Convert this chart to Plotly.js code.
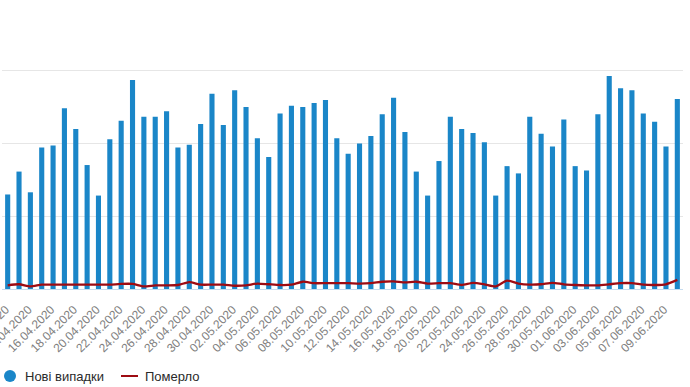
<!DOCTYPE html>
<html>
<head>
<meta charset="utf-8">
<script src="https://cdn.plot.ly/plotly-3.0.1.min.js"></script>
<style>html,body{margin:0;padding:0;background:#fff;}#chart{width:690px;height:387px;}</style>
</head>
<body>
<div id="chart"></div>
<script>
var dates = ["12.04.2020","13.04.2020","14.04.2020","15.04.2020","16.04.2020","17.04.2020","18.04.2020","19.04.2020","20.04.2020","21.04.2020",
"22.04.2020","23.04.2020","24.04.2020","25.04.2020","26.04.2020","27.04.2020","28.04.2020","29.04.2020","30.04.2020","01.05.2020",
"02.05.2020","03.05.2020","04.05.2020","05.05.2020","06.05.2020","07.05.2020","08.05.2020","09.05.2020","10.05.2020","11.05.2020",
"12.05.2020","13.05.2020","14.05.2020","15.05.2020","16.05.2020","17.05.2020","18.05.2020","19.05.2020","20.05.2020","21.05.2020",
"22.05.2020","23.05.2020","24.05.2020","25.05.2020","26.05.2020","27.05.2020","28.05.2020","29.05.2020","30.05.2020","31.05.2020",
"01.06.2020","02.06.2020","03.06.2020","04.06.2020","05.06.2020","06.06.2020","07.06.2020","08.06.2020","09.06.2020","10.06.2020"];
var newCases = [260,323,266,389,395,497,440,341,257,412,
463,575,474,474,489,389,397,454,537,451,
547,501,415,363,483,504,501,512,520,415,
372,400,421,481,526,432,323,257,352,474,
440,429,404,257,338,318,474,427,392,466,
338,326,481,586,552,547,483,460,392,523];
var deaths = [10,13,7,12,12,12,12,12,12,12,
14,14,7,10,10,11,19,12,12,12,
9,10,15,13,11,12,20,16,16,16,
16,15,16,20,21,18,20,15,16,16,
11,17,13,7,23,15,12,13,17,13,
11,10,10,13,16,16,12,11,13,25];
var tickDates = ["12.04.2020","14.04.2020","16.04.2020","18.04.2020","20.04.2020","22.04.2020","24.04.2020","26.04.2020","28.04.2020","30.04.2020",
"02.05.2020","04.05.2020","06.05.2020","08.05.2020","10.05.2020","12.05.2020","14.05.2020","16.05.2020","18.05.2020","20.05.2020",
"22.05.2020","24.05.2020","26.05.2020","28.05.2020","30.05.2020","01.06.2020","03.06.2020","05.06.2020","07.06.2020","09.06.2020"];
var yGrid = [200,400,600];
var seriesNames = ["Нові випадки","Померло"];

var blue = "#1a86c8";
var red = "#9e0b12";
var font = "Liberation Sans, Arial, sans-serif";

var traces = [
  {type:"bar", x:dates, y:newCases, marker:{color:blue}, name:seriesNames[0], showlegend:false},
  {type:"scatter", mode:"lines", x:dates, y:deaths, name:seriesNames[1], showlegend:false,
   line:{color:red, width:2.3, shape:"spline", smoothing:0.6}}
];

var W = 690, H = 387, mL = 2, mR = 7, mT = 0, mB = 98;
var pw = W - mL - mR, ph = H - mT - mB;
function px(x){ return (x - mL) / pw; }
function py(y){ return (H - mB - y) / ph; }
var legY = 376;

var layout = {
  width:W, height:H,
  margin:{l:mL, r:mR, t:mT, b:mB, pad:0},
  paper_bgcolor:"#fff", plot_bgcolor:"#fff",
  bargap:0.55,
  showlegend:false,
  xaxis:{type:"category", tickmode:"array", tickvals:tickDates, ticktext:tickDates, tickangle:-45,
         tickfont:{family:font, size:12, color:"#808080"},
         ticklabelshift:-2, ticklabelstandoff:8,
         showgrid:false, showline:true, linecolor:"#c6dcef", linewidth:1, ticks:"", zeroline:false, fixedrange:true},
  yaxis:{range:[0,795], tickmode:"array", tickvals:yGrid, showticklabels:false, showgrid:true, gridcolor:"#e6e6e6",
         gridwidth:1, zeroline:false, showline:false, ticks:"", fixedrange:true},
  shapes:[
    {type:"circle", xref:"paper", yref:"paper", x0:px(4), x1:px(16), y0:py(legY+6), y1:py(legY-6),
     fillcolor:blue, line:{width:0}},
    {type:"line", xref:"paper", yref:"paper", x0:px(121), x1:px(138), y0:py(legY), y1:py(legY),
     line:{color:red, width:2}}
  ],
  annotations:[
    {xref:"paper", yref:"paper", x:px(23), y:py(legY), xanchor:"left", yanchor:"middle", showarrow:false,
     text:seriesNames[0], font:{family:font, size:13, color:"#2a2a2a"}},
    {xref:"paper", yref:"paper", x:px(143), y:py(legY), xanchor:"left", yanchor:"middle", showarrow:false,
     text:seriesNames[1], font:{family:font, size:13, color:"#2a2a2a"}}
  ]
};
Plotly.newPlot("chart", traces, layout, {displayModeBar:false, staticPlot:true});
</script>
</body>
</html>
